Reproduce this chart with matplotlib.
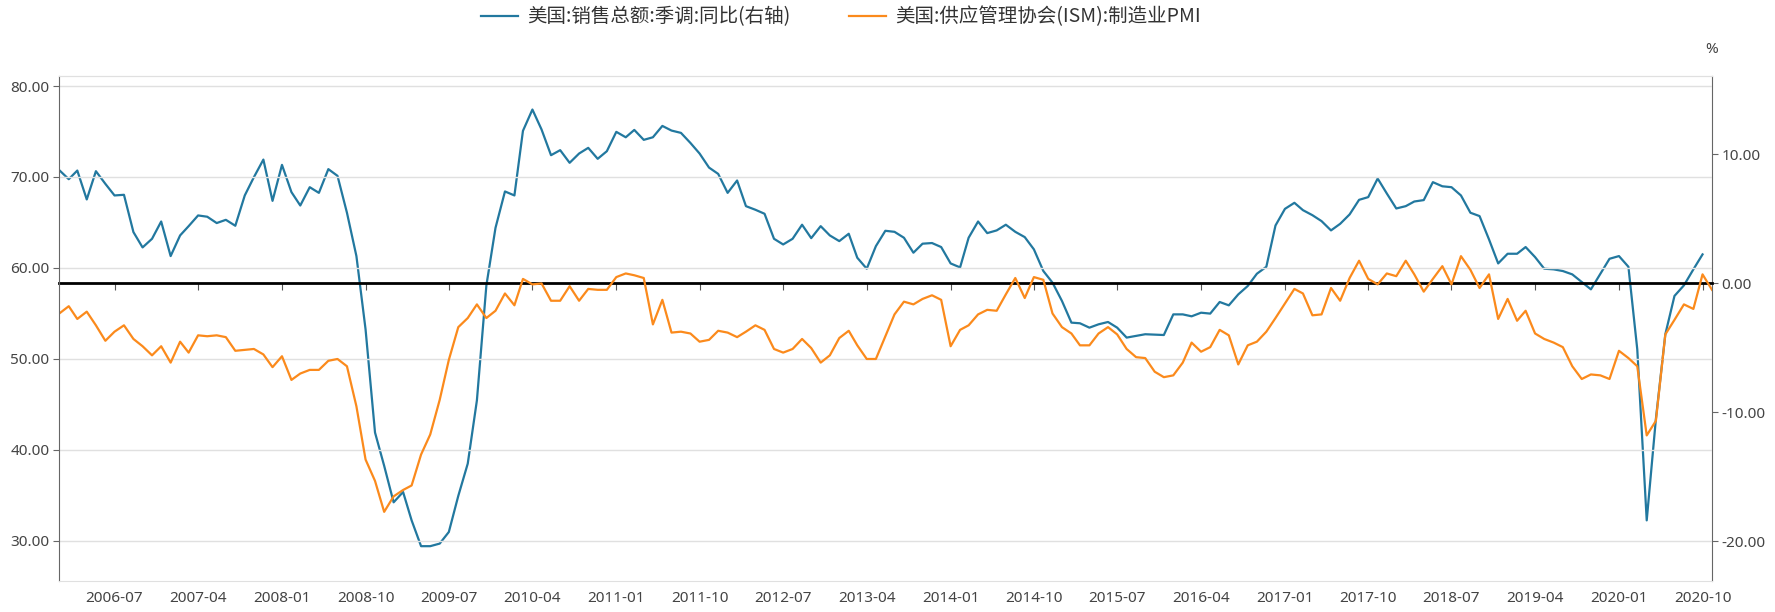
import pandas as pd
import matplotlib
matplotlib.use("Agg")
import matplotlib.pyplot as plt
import matplotlib.dates as mdates
from matplotlib.ticker import FormatStrFormatter

plt.rcParams['font.family'] = ['Noto Sans CJK SC', 'DejaVu Sans']

# monthly data, 2006-01 onwards
start_month = "2006-01-01"

# 美国:销售总额:季调:同比 (%), right axis
retail_yoy = [
    8.75, 8.05, 8.72, 6.48, 8.67, 7.69, 6.79, 6.84, 3.95, 2.76, 3.43, 4.77, 2.09, 3.69, 4.41,
    5.24, 5.14, 4.65, 4.90, 4.44, 6.79, 8.21, 9.57, 6.37, 9.16, 7.05, 6.01, 7.43, 6.99, 8.83,
    8.31, 5.45, 2.09, -3.59, -11.59, -14.17, -17.0, -16.2, -18.4, -20.4, -20.4, -20.2, -19.3, -16.5, -14.0,
    -9.1, -0.2, 4.28, 7.10, 6.79, 11.8, 13.45, 11.9, 9.91, 10.3, 9.32, 10.04, 10.48, 9.63, 10.22,
    11.72, 11.3, 11.87, 11.1, 11.3, 12.18, 11.82, 11.64, 10.86, 10.04, 8.95, 8.46, 6.99, 7.95, 5.96,
    5.68, 5.37, 3.43, 2.99, 3.43, 4.52, 3.48, 4.41, 3.69, 3.25, 3.82, 1.96, 1.11, 2.86, 4.05,
    3.97, 3.51, 2.35, 3.05, 3.10, 2.79, 1.52, 1.21, 3.51, 4.77, 3.87, 4.08, 4.52, 3.97, 3.56,
    2.61, 0.93, 0.03, -1.39, -3.07, -3.12, -3.46, -3.20, -3.02, -3.46, -4.23, -4.10, -3.97, -4.00, -4.03,
    -2.43, -2.43, -2.58, -2.30, -2.37, -1.47, -1.73, -0.88, -0.23, 0.72, 1.26, 4.46, 5.75, 6.22, 5.65,
    5.26, 4.80, 4.08, 4.59, 5.32, 6.45, 6.66, 8.10, 6.94, 5.78, 5.96, 6.32, 6.43, 7.82, 7.50,
    7.43, 6.79, 5.45, 5.19, 3.38, 1.52, 2.27, 2.27, 2.79, 2.01, 1.11, 1.06, 0.93, 0.67, 0.08,
    -0.49, 0.72, 1.88, 2.09, 1.26, -5.14, -18.4, -10.55, -3.97, -1.0, -0.18, 1.06, 2.22,
]

# 美国:供应管理协会(ISM):制造业PMI, left axis
ism_pmi = [
    55.0, 55.8, 54.4, 55.2, 53.7, 52.0, 53.0, 53.7, 52.2, 51.4, 50.4, 51.4, 49.6, 51.9, 50.7,
    52.6, 52.5, 52.6, 52.4, 50.9, 51.0, 51.1, 50.5, 49.1, 50.3, 47.7, 48.4, 48.8, 48.8, 49.8,
    50.0, 49.2, 44.8, 38.95, 36.6, 33.2, 34.9, 35.6, 36.1, 39.5, 41.7, 45.5, 49.9, 53.5, 54.5,
    56.0, 54.5, 55.3, 57.2, 55.9, 58.8, 58.2, 58.3, 56.4, 56.4, 58.0, 56.4, 57.7, 57.6, 57.6,
    59.0, 59.4, 59.2, 58.9, 53.8, 56.5, 52.9, 53.0, 52.8, 51.9, 52.1, 53.1, 52.9, 52.4, 53.0,
    53.7, 53.2, 51.1, 50.7, 51.1, 52.2, 51.2, 49.6, 50.4, 52.3, 53.1, 51.5, 50.0, 50.0, 52.5,
    54.9, 56.3, 56.0, 56.6, 57.0, 56.5, 51.4, 53.2, 53.7, 54.9, 55.4, 55.3, 57.1, 58.9, 56.7,
    59.0, 58.7, 55.0, 53.5, 52.8, 51.5, 51.5, 52.8, 53.5, 52.7, 51.1, 50.2, 50.1, 48.6, 48.0,
    48.2, 49.6, 51.8, 50.8, 51.3, 53.2, 52.6, 49.4, 51.5, 51.9, 53.0, 54.5, 56.1, 57.7, 57.2,
    54.8, 54.9, 57.8, 56.4, 58.9, 60.8, 58.8, 58.2, 59.4, 59.1, 60.8, 59.3, 57.4, 58.8, 60.2,
    58.2, 61.3, 59.8, 57.8, 59.3, 54.4, 56.6, 54.2, 55.3, 52.8, 52.2, 51.8, 51.3, 49.2, 47.8,
    48.3, 48.2, 47.8, 50.9, 50.1, 49.2, 41.6, 43.2, 52.7, 54.3, 56.0, 55.5, 59.3, 57.6,
]

left_ticks = [30, 40, 50, 60, 70, 80]
right_ticks = [-20, -10, 0, 10]
label_retail = "美国:销售总额:季调:同比(右轴)"
label_pmi = "美国:供应管理协会(ISM):制造业PMI"

blue = "#22789f"
orange = "#fb8a1c"
grid_c = "#e0e0e0"
text_c = "#444444"
tick_font = ['Noto Sans', 'DejaVu Sans']

months = pd.date_range(start_month, periods=len(ism_pmi), freq="MS")

fig = plt.figure(figsize=(17.75, 6.12), dpi=100)
ax = fig.add_axes([59.3 / 1775, 1 - 581 / 612, (1712 - 59.3) / 1775, (581 - 76) / 612])
ax2 = ax.twinx()

# orange drawn on top of blue, like the original
ax.set_zorder(ax2.get_zorder() + 1)
ax.patch.set_visible(False)

l1, = ax2.plot(months[:len(retail_yoy)], retail_yoy, color=blue, lw=1.6)
l2, = ax.plot(months, ism_pmi, color=orange, lw=1.6)

ax.set_xlim(months[0], months[-1])
ax.set_ylim(25.6, 81.1)
ax2.set_ylim(-23.1, 16.05)

ax.set_yticks(left_ticks)
ax2.set_yticks(right_ticks)
ax.yaxis.set_major_formatter(FormatStrFormatter("%.2f"))
ax2.yaxis.set_major_formatter(FormatStrFormatter("%.2f"))
ax.grid(axis="y", color=grid_c, lw=1)
ax.set_axisbelow(True)

tick_months = months[6::9]
ax.set_xticks(tick_months)
ax.xaxis.set_major_formatter(mdates.DateFormatter("%Y-%m"))
ax.tick_params(axis="x", length=0, pad=7, labelsize=11, labelcolor=text_c)
ax.tick_params(axis="y", length=4, color="#666666", pad=3, labelsize=11, labelcolor=text_c)
ax2.tick_params(axis="y", length=4, color="#666666", pad=3, labelsize=11, labelcolor=text_c)
for lab in ax.get_xticklabels() + ax.get_yticklabels() + ax2.get_yticklabels():
    lab.set_fontfamily(tick_font)

for s in ["top", "bottom"]:
    ax.spines[s].set_color(grid_c)
    ax2.spines[s].set_color(grid_c)
ax.spines["left"].set_color("#666666")
ax.spines["right"].set_visible(False)
ax2.spines["left"].set_visible(False)
ax2.spines["right"].set_color("#666666")

# zero line of the right axis carries the x ticks
ax2.xaxis.set_visible(True)
ax2.spines["bottom"].set_position(("data", 0))
ax2.spines["bottom"].set_color("black")
ax2.spines["bottom"].set_linewidth(2)
ax2.set_xticks(tick_months)
ax2.tick_params(axis="x", bottom=True, top=False, labelbottom=False, length=5, color="#555555")

ax2.text(1.0, 1.0515, "%", transform=ax2.transAxes, ha="center", va="center",
         fontsize=11, color=text_c, family=tick_font)

# two legend entries, placed like the original
fig.legend([l1], [label_retail], loc="center left", bbox_to_anchor=(481 / 1775, 1 - 17 / 612),
           frameon=False, fontsize=14, handlelength=1.9, handletextpad=0.5,
           borderpad=0, borderaxespad=0, labelcolor="#333333")
fig.legend([l2], [label_pmi], loc="center left", bbox_to_anchor=(849 / 1775, 1 - 17 / 612),
           frameon=False, fontsize=14, handlelength=1.9, handletextpad=0.5,
           borderpad=0, borderaxespad=0, labelcolor="#333333")

fig.savefig("out.png", dpi=100)
